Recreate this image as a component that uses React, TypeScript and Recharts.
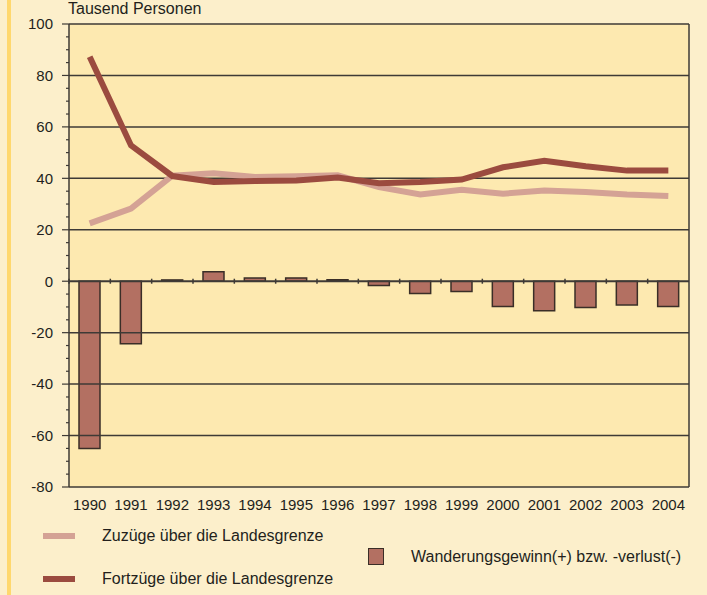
import { ComposedChart, Bar, Line, XAxis, YAxis, CartesianGrid, ReferenceLine } from 'recharts'

// ── Data ──────────────────────────────────────────────────────────────────────

const YEARS = ['1990', '1991', '1992', '1993', '1994', '1995', '1996', '1997', '1998', '1999', '2000', '2001', '2002', '2003', '2004']
const ZUZUEGE = [22.5, 28.2, 41, 42, 40.5, 40.8, 41.2, 36.6, 33.7, 35.6, 34, 35.3, 34.7, 33.7, 33.1]
const FORTZUEGE = [87.3, 52.8, 40.9, 38.6, 39, 39.2, 40.3, 38.1, 38.6, 39.5, 44.3, 46.8, 44.7, 43, 43]
const SALDO = [-65, -24.3, 0.5, 3.7, 1.3, 1.3, 0.6, -1.7, -4.8, -4, -9.8, -11.5, -10.2, -9.2, -9.8]
const Y_TICKS = Array.from({ length: 37 }, (_, i) => -80 + i * 5)
const GRID_VALUES = [-80, -60, -40, -20, 20, 40, 60, 80, 100]

const data = YEARS.map((year, i) => ({
  year,
  zuzuege: ZUZUEGE[i],
  fortzuege: FORTZUEGE[i],
  saldo: SALDO[i],
}))

const C = {
  outer: '#FCEFCB',
  stripe: '#FFD86E',
  plot: '#FDE9B0',
  grid: '#3e3a36',
  light: '#D4A295',
  dark: '#9B4B3F',
  bar: '#B37062',
  barStroke: '#3a2e27',
  text: '#231f1c',
}

const FONT = '"Liberation Sans", Arial, sans-serif'

// eslint-disable-next-line @typescript-eslint/no-explicit-any
const YTick = ({ x, y, payload }: any) => {
  const v = payload.value
  const major = v % 20 === 0
  return (
    <g>
      <line x1={major ? x - 7 : x - 3} x2={x} y1={y} y2={y} stroke={C.grid} strokeWidth={1.2} />
      {major && (
        <text x={x - 16} y={y} dy="0.355em" textAnchor="end" fontSize={15} fill={C.text} fontFamily={FONT}>
          {v}
        </text>
      )}
    </g>
  )
}

// zero line with small category ticks, like the x axis crossing at 0
// eslint-disable-next-line @typescript-eslint/no-explicit-any
const ZeroLine = ({ x1, x2, y1 }: any) => {
  const step = (x2 - x1) / YEARS.length
  return (
    <g>
      <line x1={x1} x2={x2} y1={y1} y2={y1} stroke={C.grid} strokeWidth={2} />
      {YEARS.map((_, i) => (
        <line key={i} x1={x1 + step * i} x2={x1 + step * i} y1={y1 - 2.5} y2={y1 + 2.5} stroke={C.grid} strokeWidth={1.5} />
      ))}
    </g>
  )
}

const legendText: React.CSSProperties = {
  position: 'absolute',
  fontSize: 16,
  lineHeight: '17px',
  color: C.text,
  whiteSpace: 'nowrap',
}

export default function App() {
  return (
    <div style={{ position: 'fixed', left: 0, top: 0, width: 707, height: 595, background: C.outer, fontFamily: FONT, overflow: 'hidden' }}>
      <div style={{ position: 'absolute', left: 7, top: 0, width: 4, height: 595, background: C.stripe }} />
      <div style={{ ...legendText, left: 68, top: 0 }}>Tausend Personen</div>

      <div style={{ position: 'absolute', left: 0, top: 0 }}>
        <ComposedChart width={707} height={595} data={data} margin={{ top: 24, right: 0, left: 0, bottom: 78 }} barSize={21}>
          <CartesianGrid horizontal={false} vertical={false} fill={C.plot} />
          {GRID_VALUES.map((v) => (
            <ReferenceLine key={v} y={v} stroke={C.grid} strokeWidth={1.5} ifOverflow="extendDomain" />
          ))}
          <XAxis
            dataKey="year"
            height={30}
            axisLine={false}
            tickLine={false}
            tickSize={0}
            tickMargin={12}
            interval={0}
            tick={{ fontSize: 15, fill: C.text, fontFamily: FONT }}
          />
          <YAxis
            width={69}
            domain={[-80, 100]}
            ticks={Y_TICKS}
            interval={0}
            tickSize={0}
            tickMargin={0}
            tickLine={false}
            axisLine={{ stroke: C.grid, strokeWidth: 1.5 }}
            tick={<YTick />}
            allowDataOverflow
          />
          <YAxis
            yAxisId="right"
            orientation="right"
            width={18}
            domain={[-80, 100]}
            tick={false}
            tickLine={false}
            axisLine={{ stroke: C.grid, strokeWidth: 1.5 }}
          />
          <Bar dataKey="saldo" fill={C.bar} stroke={C.barStroke} strokeWidth={1.5} isAnimationActive={false} />
          <ReferenceLine y={0} shape={<ZeroLine />} />
          <Line type="linear" dataKey="zuzuege" stroke={C.light} strokeWidth={6} dot={false} isAnimationActive={false} />
          <Line type="linear" dataKey="fortzuege" stroke={C.dark} strokeWidth={6} dot={false} isAnimationActive={false} />
        </ComposedChart>
      </div>

      {/* Legend */}
      <div style={{ position: 'absolute', left: 43, top: 533, width: 32, height: 6, background: C.light }} />
      <div style={{ ...legendText, left: 102, top: 527 }}>Zuzüge über die Landesgrenze</div>
      <div style={{ position: 'absolute', left: 43, top: 576, width: 32, height: 6, background: C.dark }} />
      <div style={{ ...legendText, left: 102, top: 570 }}>Fortzüge über die Landesgrenze</div>
      <div style={{ position: 'absolute', left: 368, top: 548, width: 14, height: 15, background: C.bar, border: `1.5px solid ${C.barStroke}` }} />
      <div style={{ ...legendText, left: 411, top: 548 }}>Wanderungsgewinn(+) bzw. -verlust(-)</div>
    </div>
  )
}
